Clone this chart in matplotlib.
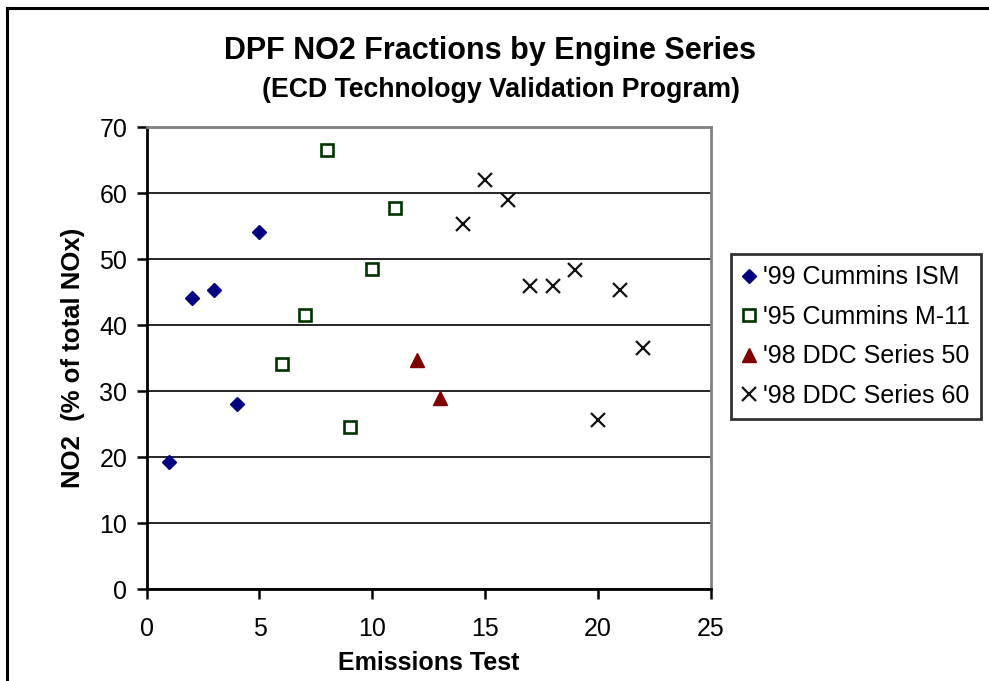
import matplotlib
matplotlib.use('Agg')
import matplotlib.pyplot as plt
from matplotlib.lines import Line2D

plt.rcParams['font.family'] = ['Liberation Sans', 'DejaVu Sans']

# emissions test number vs NO2 fraction (% of total NOx)
ism_x = [1, 2, 3, 4, 5]
ism_y = [19.3, 44.1, 45.4, 28.1, 54.1]
m11_x = [6, 7, 8, 9, 10, 11]
m11_y = [34.1, 41.6, 66.5, 24.6, 48.6, 57.7]
s50_x = [12, 13]
s50_y = [34.8, 29.0]
s60_x = [14, 15, 16, 17, 18, 19, 20, 21, 22]
s60_y = [55.3, 62.0, 59.0, 46.0, 46.0, 48.4, 25.7, 45.3, 36.6]

labels = ["'99 Cummins ISM", "'95 Cummins M-11", "'98 DDC Series 50", "'98 DDC Series 60"]
xticks = [0, 5, 10, 15, 20, 25]
yticks = [0, 10, 20, 30, 40, 50, 60, 70]

fig = plt.figure(figsize=(9.89, 6.81), dpi=100)
ax = fig.add_axes([0.1483, 0.1347, 0.5703, 0.6784])

ax.plot(ism_x, ism_y, ls='none', marker='D', ms=7.3, color='#000080', label=labels[0])
ax.plot(m11_x, m11_y, ls='none', marker='s', ms=8, mfc='white', mec='#003300', mew=1.9, label=labels[1])
ax.plot(s50_x, s50_y, ls='none', marker='^', ms=10, color='#800000', label=labels[2])
ax.plot(s60_x, s60_y, ls='none', marker='x', ms=10, mew=1.6, color='#111111', label=labels[3])

ax.set_xlim(0, 25)
ax.set_ylim(0, 70)
ax.set_xticks(xticks)
ax.set_yticks(yticks)
ax.yaxis.grid(True, color='black', lw=1.2)
ax.set_axisbelow(True)
ax.tick_params(labelsize=18, direction='out', length=7, width=1.8)
ax.tick_params(axis='x', pad=13)
ax.tick_params(axis='y', pad=7)
for s in ['left', 'bottom']:
    ax.spines[s].set_linewidth(2)
for s in ['top', 'right']:
    ax.spines[s].set_color('#808080')
    ax.spines[s].set_linewidth(2)

ax.set_xlabel('Emissions Test', fontsize=18, fontweight='bold', labelpad=7)
ax.set_ylabel('NO2  (% of total NOx)', fontsize=18.5, fontweight='bold', labelpad=10)

fig.text(0.4955, 1 - 51 / 681, 'DPF NO2 Fractions by Engine Series', ha='center', va='center',
         fontsize=22, fontweight='bold')
fig.text(0.5065, 1 - 90 / 681, '(ECD Technology Validation Program)', ha='center', va='center',
         fontsize=19.2, fontweight='bold')

leg = ax.legend(loc='upper left', bbox_to_anchor=(730.7 / 989, 1 - 254 / 681), bbox_transform=fig.transFigure,
                fontsize=18, frameon=True, fancybox=False, edgecolor='black', handlelength=0.6,
                handletextpad=0.25, borderpad=0.45, labelspacing=0.62, borderaxespad=0)
leg.get_frame().set_linewidth(2)

# outer chart border (top and left only visible)
fig.add_artist(Line2D([7 / 989, 1], [1 - 8 / 681, 1 - 8 / 681], color='black', lw=2.2, transform=fig.transFigure))
fig.add_artist(Line2D([7 / 989, 7 / 989], [0, 1 - 8 / 681], color='black', lw=2.2, transform=fig.transFigure))

fig.savefig('out.png', dpi=100)
